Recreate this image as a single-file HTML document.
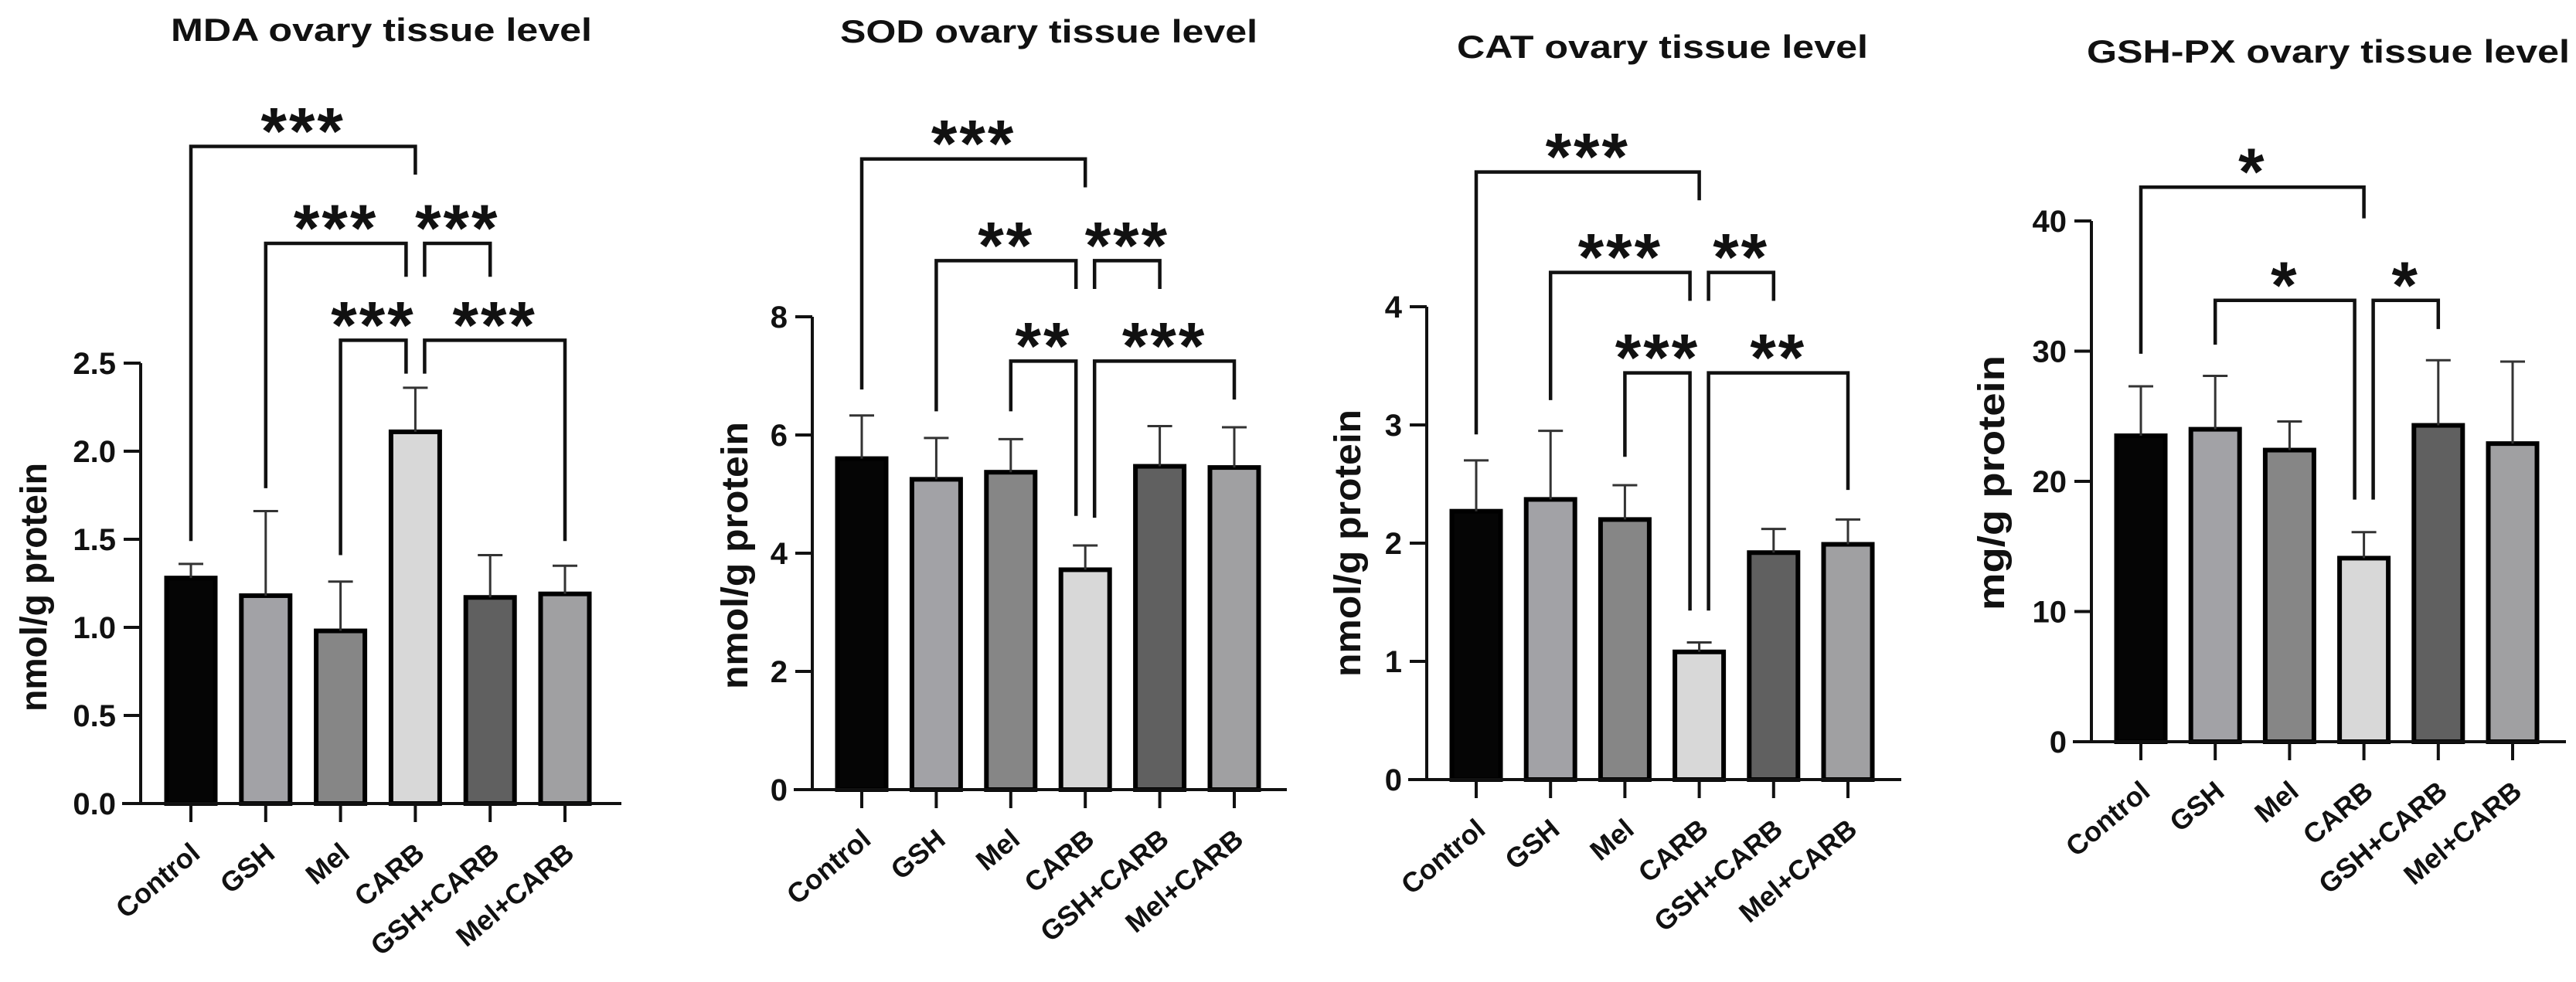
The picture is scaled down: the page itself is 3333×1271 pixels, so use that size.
<!DOCTYPE html>
<html><head><meta charset="utf-8"><style>
html,body{margin:0;padding:0;background:#fff;}
svg{display:block;}
text{font-family:"Liberation Sans",Arial,sans-serif;font-weight:bold;fill:#111;}
</style></head><body>
<svg id="fig" width="3333" height="1271" viewBox="0 0 3333 1271" xmlns="http://www.w3.org/2000/svg"></svg>
<script>
const categories = ["Control","GSH","Mel","CARB","GSH+CARB","Mel+CARB"];
const barColors = ["#050505","#a2a2a6","#868686","#d8d8d8","#606060","#a0a0a2"];

// MDA
const mdaMeans = [1.28, 1.18, 0.98, 2.11, 1.17, 1.19];
const mdaErrTops = [1.36, 1.66, 1.26, 2.36, 1.41, 1.35];
const mdaTicks = [0, 0.5, 1.0, 1.5, 2.0, 2.5];
const mdaTickLabels = ["0.0","0.5","1.0","1.5","2.0","2.5"];
const mdaBFrom = [0, 1, 3, 2, 3];
const mdaBTo = [3, 3, 4, 3, 5];
const mdaBY = [3.73, 3.18, 3.18, 2.63, 2.63];
const mdaBLeftEnd = [1.49, 1.79, 2.99, 1.41, 2.44];
const mdaBRightEnd = [3.57, 2.99, 2.99, 2.44, 1.49];
const mdaBStars = ["***","***","***","***","***"];

// SOD
const sodMeans = [5.6, 5.25, 5.37, 3.72, 5.47, 5.45];
const sodErrTops = [6.33, 5.95, 5.93, 4.13, 6.15, 6.13];
const sodTicks = [0, 2, 4, 6, 8];
const sodTickLabels = ["0","2","4","6","8"];
const sodBFrom = [0, 1, 3, 2, 3];
const sodBTo = [3, 3, 4, 3, 5];
const sodBY = [10.67, 8.95, 8.95, 7.25, 7.25];
const sodBLeftEnd = [6.77, 6.4, 8.47, 6.4, 4.6];
const sodBRightEnd = [10.19, 8.47, 8.47, 4.63, 6.6];
const sodBStars = ["***","**","***","**","***"];

// CAT
const catMeans = [2.27, 2.37, 2.2, 1.08, 1.92, 1.99];
const catErrTops = [2.7, 2.95, 2.49, 1.16, 2.12, 2.2];
const catTicks = [0, 1, 2, 3, 4];
const catTickLabels = ["0","1","2","3","4"];
const catBFrom = [0, 1, 3, 2, 3];
const catBTo = [3, 3, 4, 3, 5];
const catBY = [5.14, 4.29, 4.29, 3.44, 3.44];
const catBLeftEnd = [2.92, 3.21, 4.05, 2.73, 1.43];
const catBRightEnd = [4.9, 4.05, 4.05, 1.43, 2.45];
const catBStars = ["***","***","**","***","**"];

// GSH-PX
const gpxMeans = [23.5, 24.0, 22.4, 14.1, 24.3, 22.9];
const gpxErrTops = [27.3, 28.1, 24.6, 16.1, 29.3, 29.2];
const gpxTicks = [0, 10, 20, 30, 40];
const gpxTickLabels = ["0","10","20","30","40"];
const gpxBFrom = [0, 1, 3];
const gpxBTo = [3, 3, 4];
const gpxBY = [42.6, 33.9, 33.9];
const gpxBLeftEnd = [29.8, 30.5, 18.6];
const gpxBRightEnd = [40.2, 18.6, 31.7];
const gpxBStars = ["*","*","*"];

const NS = "http://www.w3.org/2000/svg";
const svg = document.getElementById('fig');
function mk(tag, attrs, parent){
  const e = document.createElementNS(NS, tag);
  for (const k in attrs) e.setAttribute(k, attrs[k]);
  (parent||svg).appendChild(e);
  return e;
}

const panels = [
  {key:"mda", title:"MDA ovary tissue level", tx:221, tty:53, tlen:545, ytitle:"nmol/g protein", ytx:44, yty:760, ylen:322,
   axisX:182, y0:1040, yTopVal:2.5, yTopPx:470, first:247, step:96.8, xEnd:804,
   means:mdaMeans, errs:mdaErrTops, ticks:mdaTicks, tickLabels:mdaTickLabels,
   bFrom:mdaBFrom, bTo:mdaBTo, bY:mdaBY, bL:mdaBLeftEnd, bR:mdaBRightEnd, bS:mdaBStars},
  {key:"sod", title:"SOD ovary tissue level", tx:1087, tty:55, tlen:540, ytitle:"nmol/g protein", ytx:951, yty:719, ylen:346,
   axisX:1051, y0:1022, yTopVal:8, yTopPx:410, first:1115, step:96.4, xEnd:1665,
   means:sodMeans, errs:sodErrTops, ticks:sodTicks, tickLabels:sodTickLabels,
   bFrom:sodBFrom, bTo:sodBTo, bY:sodBY, bL:sodBLeftEnd, bR:sodBRightEnd, bS:sodBStars},
  {key:"cat", title:"CAT ovary tissue level", tx:1885, tty:75, tlen:532, ytitle:"nmol/g protein", ytx:1744, yty:703, ylen:346,
   axisX:1846, y0:1009, yTopVal:4, yTopPx:397, first:1910, step:96.2, xEnd:2460,
   means:catMeans, errs:catErrTops, ticks:catTicks, tickLabels:catTickLabels,
   bFrom:catBFrom, bTo:catBTo, bY:catBY, bL:catBLeftEnd, bR:catBRightEnd, bS:catBStars},
  {key:"gsh-px", title:"GSH-PX ovary tissue level", tx:2700, tty:81, tlen:625, ytitle:"mg/g protein", ytx:2577, yty:625, ylen:330,
   axisX:2706, y0:960, yTopVal:40, yTopPx:286, first:2770, step:96.2, xEnd:3320,
   means:gpxMeans, errs:gpxErrTops, ticks:gpxTicks, tickLabels:gpxTickLabels,
   bFrom:gpxBFrom, bTo:gpxBTo, bY:gpxBY, bL:gpxBLeftEnd, bR:gpxBRightEnd, bS:gpxBStars}
];

panels.forEach(p => {
  const g = mk('g', {});
  
  
  const y = v => p.y0 - (v / p.yTopVal) * (p.y0 - p.yTopPx);
  const xc = i => p.first + i * p.step;
  const bw = 63;

  const t = mk('text', {x:p.tx, y:p.tty, 'font-size':42, textLength:p.tlen, lengthAdjust:'spacingAndGlyphs'}, g);
  t.textContent = p.title;
  
  

  const yt = mk('text', {x:0, y:0, 'font-size':48, 'text-anchor':'middle', textLength:p.ylen, lengthAdjust:'spacingAndGlyphs',
    transform:`translate(${p.ytx + 16},${p.yty}) rotate(-90)`}, g);
  yt.textContent = p.ytitle;
  
  

  p.means.forEach((m, i) => {
    const r = mk('rect', {x:xc(i) - bw/2, y:y(m), width:bw, height:p.y0 - y(m), fill:barColors[i], stroke:'#000', 'stroke-width':6}, g);
    
    
    const e = mk('path', {d:`M${xc(i)},${y(m)} V${y(p.errs[i])} M${xc(i)-16},${y(p.errs[i])} H${xc(i)+16}`, stroke:'#333', 'stroke-width':3, fill:'none'}, g);
    
    
  });

  const ax = mk('path', {d:`M${p.axisX},${y(p.yTopVal)} V${p.y0} M${p.axisX - 24},${p.y0} H${p.xEnd}`, stroke:'#111', 'stroke-width':4, fill:'none'}, g);
  
  
  p.ticks.forEach((tv, k) => {
    const tk = mk('line', {x1:p.axisX - 22, x2:p.axisX, y1:y(tv), y2:y(tv), stroke:'#111', 'stroke-width':4}, g);
    
    
    const tl = mk('text', {x:p.axisX - 32, y:y(tv) + 14, 'font-size':40, 'text-anchor':'end'}, g);
    tl.textContent = p.tickLabels[k];
    
    
  });
  categories.forEach((c, i) => {
    const tk = mk('line', {x1:xc(i), x2:xc(i), y1:p.y0, y2:p.y0 + 24, stroke:'#111', 'stroke-width':4}, g);
    
    
    const lx = xc(i) + 14, ly = p.y0 + 68;
    const tl = mk('text', {x:0, y:0, 'font-size':36, 'text-anchor':'end', transform:`translate(${lx},${ly}) rotate(-40)`}, g);
    tl.textContent = c;
    
    
  });

  p.bFrom.forEach((f, k) => {
    const to = p.bTo[k];
    const lOff = (f === 3) ? 12 : 0;
    const rOff = (to === 3 && f !== 0) ? -12 : 0;
    const x1 = xc(f) + lOff, x2 = xc(to) + rOff;
    const by = y(p.bY[k]);
    const br = mk('path', {d:`M${x1},${y(p.bL[k])} V${by} H${x2} V${y(p.bR[k])}`, stroke:'#111', 'stroke-width':4.5, fill:'none'}, g);
    
    
    const st = mk('text', {x:(x1 + x2)/2, y:by + 10, 'font-size':86, 'text-anchor':'middle', 'letter-spacing':3}, g);
    st.textContent = p.bS[k];
    
    
  });
});
</script>
</body></html>
